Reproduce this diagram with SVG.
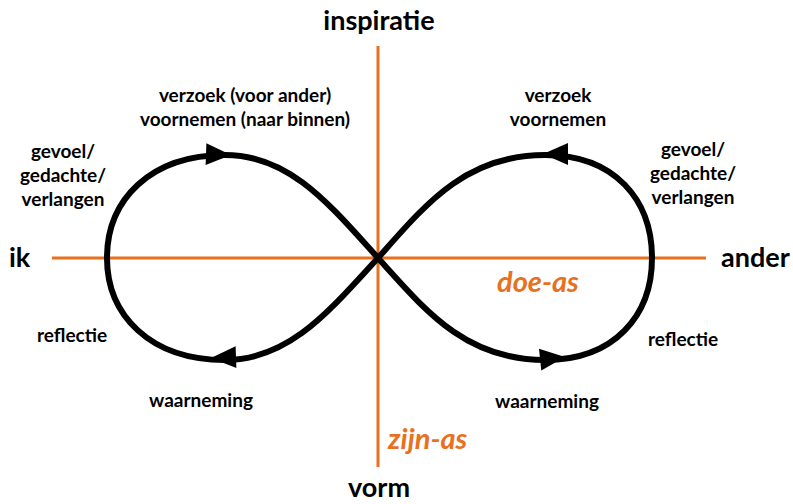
<svg xmlns="http://www.w3.org/2000/svg" width="793" height="504" viewBox="0 0 793 504">
<style>
.t{font-family:Lato,"Open Sans","Liberation Sans",sans-serif;font-weight:bold;fill:#000}
.s{font-size:19px}
.b{font-size:27px}
.o{font-family:Lato,"Open Sans","Liberation Sans",sans-serif;font-weight:bold;font-style:italic;fill:#E8701E;font-size:29px}
.axis{stroke:#E8701E;stroke-width:3;fill:none}
.loop{stroke:#000;stroke-width:6;fill:none}
</style>
<defs>
<polygon id="ah" points="0,0 -25,-11 -25,11"/>
</defs>
<g id="axes">
<line class="axis" x1="378" y1="46" x2="378" y2="467"/>
<line class="axis" x1="52" y1="258" x2="706" y2="258"/>
</g>
<g id="connectors">
<path class="loop" d="M378,258 C330,205 290,155 225,155 C150,155 107,200 107,258 C107,315 150,360 225,360 C290,360 330,310 378,258 C425,310 465,360 545,360 C615,360 652,315 652,258 C652,200 615,155 545,155 C465,155 425,205 378,258 Z"/>
<use href="#ah" transform="translate(231,155) rotate(2)"/>
<use href="#ah" transform="translate(543,154) rotate(180)"/>
<use href="#ah" transform="translate(211,358) rotate(178)"/>
<use href="#ah" transform="translate(565,357) rotate(-6)"/>
</g>
<g id="n-inspiratie"><text class="t b" x="379" y="30" text-anchor="middle">inspiratie</text></g>
<g id="n-vorm"><text class="t b" x="379" y="497" text-anchor="middle">vorm</text></g>
<g id="n-ik"><text class="t b" x="9" y="267">ik</text></g>
<g id="n-ander"><text class="t b" x="721" y="267">ander</text></g>
<g id="n-doe-as"><text class="o" x="497" y="292">doe-as</text></g>
<g id="n-zijn-as"><text class="o" x="388" y="449">zijn-as</text></g>
<g id="n-verzoek-l"><text class="t s" text-anchor="middle" x="245" y="102">verzoek (voor ander)<tspan x="245" dy="24">voornemen (naar binnen)</tspan></text></g>
<g id="n-verzoek-r"><text class="t s" text-anchor="middle" x="558" y="102">verzoek<tspan x="558" dy="24">voornemen</tspan></text></g>
<g id="n-gevoel-l"><text class="t s" text-anchor="middle" x="63" y="158">gevoel/<tspan x="63" dy="24">gedachte/</tspan><tspan x="63" dy="24">verlangen</tspan></text></g>
<g id="n-gevoel-r"><text class="t s" text-anchor="middle" x="693" y="156">gevoel/<tspan x="693" dy="24">gedachte/</tspan><tspan x="693" dy="24">verlangen</tspan></text></g>
<g id="n-reflectie-l"><text class="t s" text-anchor="middle" x="72" y="342">reflectie</text></g>
<g id="n-reflectie-r"><text class="t s" text-anchor="middle" x="683" y="346">reflectie</text></g>
<g id="n-waarneming-l"><text class="t s" text-anchor="middle" x="201" y="407">waarneming</text></g>
<g id="n-waarneming-r"><text class="t s" text-anchor="middle" x="547" y="408">waarneming</text></g>
</svg>
